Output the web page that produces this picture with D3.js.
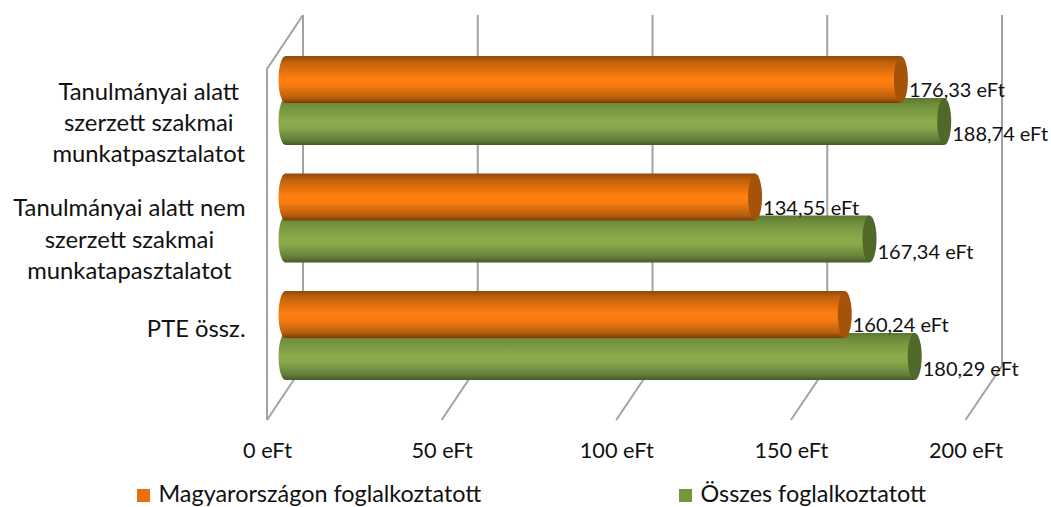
<!DOCTYPE html>
<html><head><meta charset="utf-8">
<script src="https://cdn.jsdelivr.net/npm/d3@7/dist/d3.min.js"></script>
<style>html,body{margin:0;padding:0;background:#fff}svg{display:block}text{font-family:Lato,"Open Sans",sans-serif;fill:#111}</style>
</head><body><svg id="c" width="1051" height="507"></svg>
<script>
const categories = [
  ["Tanulmányai alatt","szerzett szakmai","munkatpasztalatot"],
  ["Tanulmányai alatt nem","szerzett szakmai","munkatapasztalatot"],
  ["PTE össz."]
];
const seriesNames = ["Magyarországon foglalkoztatott","Összes foglalkoztatott"];
const hungary = [176.33,134.55,160.24];
const total = [188.74,167.34,180.29];
const tickValues = [0,50,100,150,200];

const svg = d3.select("#c");
const W = {barH:47, rx:7};
const xFront = d3.scaleLinear([0,200],[267,965.5]);
const xBack = d3.scaleLinear([0,200],[303,1002]);
const xBar = d3.scaleLinear([0,200],[285.5,983.5]);
const yGroup = d3.scalePoint(d3.range(categories.length),[56,291]);
const ySeries = d3.scalePoint(d3.range(seriesNames.length),[0,42]);
const fmt = v => d3.format(".2f")(v).replace(".",",")+" eFt";

const defs = svg.append("defs");
const grads = [
  {id:"g0",stops:[["0%","#8f4a0a"],["14%","#c2620b"],["48%","#ff7f11"],["62%","#f87b10"],["88%","#b9600d"],["100%","#7a3c07"]],cap:"#a6530a",leg:"#ea700f"},
  {id:"g1",stops:[["0%","#5c7731"],["14%","#6f8e3c"],["48%","#8bab4c"],["62%","#88a84a"],["88%","#64803a"],["100%","#48592a"]],cap:"#51682b",leg:"#76963a"}
];
grads.forEach(g=>{
  const lg=defs.append("linearGradient").attr("id",g.id).attr("x1",0).attr("x2",0).attr("y1",0).attr("y2",1);
  g.stops.forEach(s=>lg.append("stop").attr("offset",s[0]).attr("stop-color",s[1]));
});
defs.append("filter").attr("id","soft").append("feGaussianBlur").attr("stdDeviation",0.5);

// walls and gridlines
const wall = svg.append("g").attr("stroke","#a2a2a2").attr("stroke-width",2).attr("fill","none").attr("filter","url(#soft)");
const backTop=15, backBottom=366, frontTop=69, frontBottom=420;
wall.selectAll("line.v").data(tickValues).join("line").attr("class","v")
  .attr("x1",d=>xBack(d)).attr("x2",d=>xBack(d)).attr("y1",backTop).attr("y2",backBottom);
wall.selectAll("line.d").data(tickValues).join("line").attr("class","d")
  .attr("x1",d=>xBack(d)).attr("x2",d=>xFront(d)).attr("y1",backBottom).attr("y2",frontBottom);
wall.append("path").attr("d",`M${xBack(0)},${backTop}L${xFront(0)},${frontTop}L${xFront(0)},${frontBottom}`);

// bars: green drawn first in each group, orange overlaps it
categories.forEach((c,i)=>{
  const g = svg.append("g");
  [[1,total[i]],[0,hungary[i]]].forEach(([s,v])=>{
    const y0 = yGroup(i)+ySeries(s), cy=y0+W.barH/2, x0=xBar(0), x1=xBar(v);
    const fill=`url(#g${s})`;
    g.append("ellipse").attr("cx",x0).attr("cy",cy).attr("rx",W.rx).attr("ry",W.barH/2).attr("fill",fill);
    g.append("rect").attr("x",x0).attr("y",y0).attr("width",x1-x0).attr("height",W.barH).attr("fill",fill);
    g.append("ellipse").attr("cx",x1).attr("cy",cy).attr("rx",W.rx).attr("ry",W.barH/2).attr("fill",grads[s].cap);
  });
});
// data labels on top
categories.forEach((c,i)=>{
  [[0,hungary[i],10.5],[1,total[i],12.5]].forEach(([s,v,dy])=>{
    const cy=yGroup(i)+ySeries(s)+W.barH/2;
    svg.append("text").attr("x",xBar(v)+W.rx+1).attr("y",cy+dy).attr("dy","0.35em")
      .style("font-size","20px").text(fmt(v));
  });
});

// x axis labels
const axis = d3.axisBottom(xFront).tickValues(tickValues).tickFormat(d=>d+" eFt").tickSize(0).tickPadding(0);
const ax = svg.append("g").attr("transform","translate(0,443)").call(axis);
ax.select(".domain").remove();
ax.selectAll("text").style("font-size","21.7px").attr("fill",null).attr("dy","0.71em");

// category labels: centred lines, block right-aligned
const lineYs=[[100,131,162],[216,248,279],[337]];
categories.forEach((lines,i)=>{
  const g=svg.append("g");
  lines.forEach((t,j)=>g.append("text").attr("text-anchor","middle").attr("x",0).attr("y",lineYs[i][j]).style("font-size","23.8px").text(t));
  const b=g.node().getBBox();
  g.attr("transform",`translate(${245.5-(b.x+b.width)},0)`);
});

// legend
const legX=[137,679];
seriesNames.forEach((n,i)=>{
  svg.append("rect").attr("x",legX[i]).attr("y",489).attr("width",13).attr("height",13).attr("fill",grads[i].leg);
  svg.append("text").attr("x",legX[i]+21.5).attr("y",502).style("font-size","23.4px").text(n);
});
</script></body></html>
